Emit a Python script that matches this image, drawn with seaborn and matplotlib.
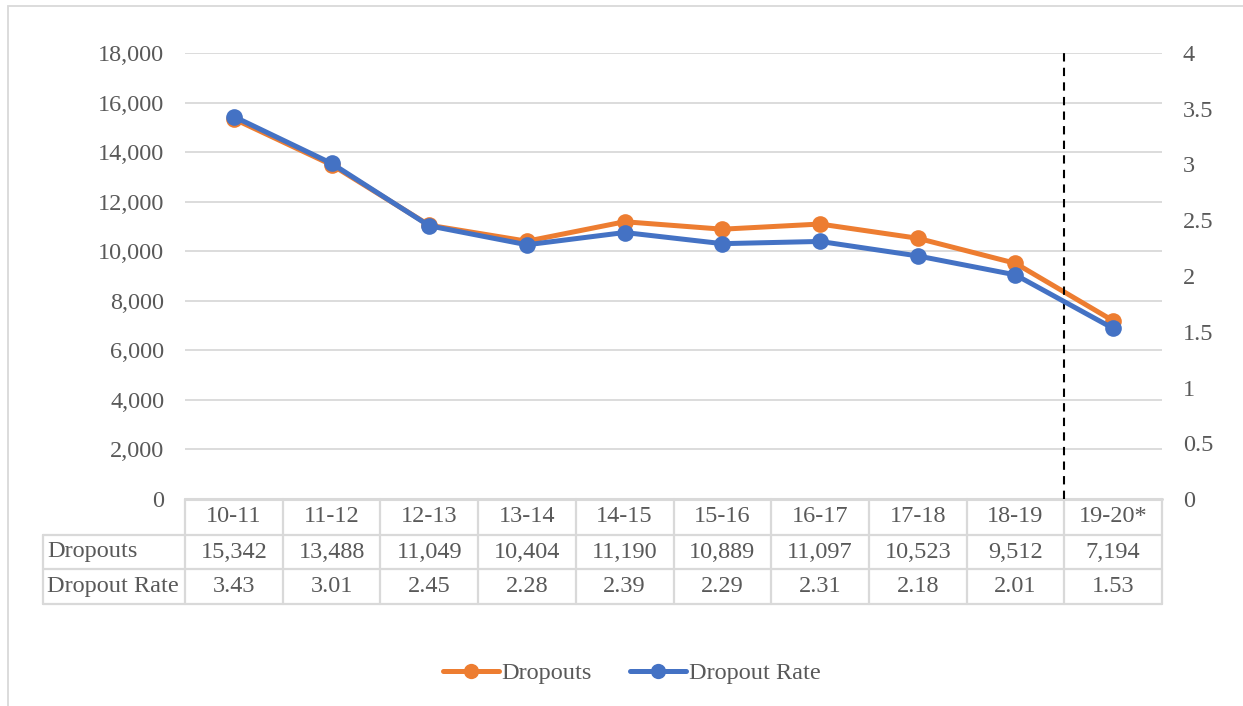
import numpy as np
import pandas as pd
import matplotlib
matplotlib.use("Agg")
import matplotlib.pyplot as plt
from matplotlib.lines import Line2D
from matplotlib.patches import Rectangle
from matplotlib.ticker import FuncFormatter, MultipleLocator
import matplotlib.transforms as mtransforms
import seaborn as sns

# School years and the two series shown in the chart and its data table
years = ["10-11", "11-12", "12-13", "13-14", "14-15", "15-16", "16-17", "17-18", "18-19", "19-20*"]
dropouts = [15342, 13488, 11049, 10404, 11190, 10889, 11097, 10523, 9512, 7194]
dropout_rate = [3.43, 3.01, 2.45, 2.28, 2.39, 2.29, 2.31, 2.18, 2.01, 1.53]
series_names = ["Dropouts", "Dropout Rate"]

ORANGE = "#ED7D31"
BLUE = "#4472C4"
GRID = "#D9D9D9"
TXT = "#595959"
FS = 17.5
LW = 3.6
MS = 12

sns.set_theme(style="white")
plt.rcParams["font.family"] = ["Liberation Serif", "DejaVu Serif"]

W, H = 1243, 706
fig = plt.figure(figsize=(W / 100, H / 100), dpi=100)

# outer chart frame
fig.patches.append(Rectangle((8 / W, -0.01), 1.05, 1 - 6 / H + 0.01, transform=fig.transFigure,
                             fill=False, edgecolor=GRID, linewidth=1.3))

left, right, top, bottom = 185, 1162, 53, 499
ax = fig.add_axes([left / W, 1 - bottom / H, (right - left) / W, (bottom - top) / H])
ax2 = ax.twinx()

df = pd.DataFrame({"pos": np.arange(len(years)), "Dropouts": dropouts, "Rate": dropout_rate})

sns.lineplot(data=df, x="pos", y="Dropouts", ax=ax, color=ORANGE, linewidth=LW,
             marker="o", markersize=MS, markeredgewidth=0, solid_capstyle="round")
sns.lineplot(data=df, x="pos", y="Rate", ax=ax2, color=BLUE, linewidth=LW,
             marker="o", markersize=MS, markeredgewidth=0, solid_capstyle="round")

n = len(years)
for a in (ax, ax2):
    a.set_xlim(-0.5, n - 0.5)
    a.set_xlabel("")
    a.set_ylabel("")
    for s in a.spines.values():
        s.set_visible(False)
    a.tick_params(axis="both", length=0, labelsize=FS, labelcolor=TXT)
    a.set_xticks([])

ax.set_ylim(0, 18000)
ax.yaxis.set_major_locator(MultipleLocator(2000))
ax.yaxis.set_major_formatter(FuncFormatter(lambda v, p: f"{int(v):,}"))
ax.tick_params(axis="y", pad=15)
ax.grid(axis="y", color=GRID, linewidth=1.3)
ax.set_axisbelow(True)

ax2.set_ylim(0, 4)
ax2.yaxis.set_major_locator(MultipleLocator(0.5))
ax2.yaxis.set_major_formatter(FuncFormatter(lambda v, p: f"{v:g}"))
ax2.tick_params(axis="y", pad=15)

# dashed divider before the latest year
ax2.axvline(n - 1.5, ymin=0, ymax=1.008, color="black", linestyle=(0, (4, 3)),
            linewidth=1.5, clip_on=False, zorder=1)

# data table beneath the plot
blend = mtransforms.blended_transform_factory(ax.transData, ax.transAxes)
ph = bottom - top
pw = right - left
row_edges = [0, -(535 - bottom) / ph, -(569 - bottom) / ph, -(604 - bottom) / ph]
label_left = (43 - left) / pw

kw = dict(color=GRID, linewidth=1.6, clip_on=False, zorder=0)
# horizontal rules
ax.add_line(Line2D([0, 1], [row_edges[0]] * 2, transform=ax.transAxes, **{**kw, "linewidth": 2.2}))
for y in row_edges[1:]:
    ax.add_line(Line2D([label_left, 1], [y, y], transform=ax.transAxes, **kw))
# vertical rules
for b in np.arange(-0.5, n, 1.0):
    ax.add_line(Line2D([b, b], [row_edges[0], row_edges[-1]], transform=blend, **kw))
ax.add_line(Line2D([label_left, label_left], [row_edges[1], row_edges[-1]],
                   transform=ax.transAxes, **kw))

centers = [(row_edges[i] + row_edges[i + 1]) / 2 for i in range(3)]
for i, yr in enumerate(years):
    ax.text(i, centers[0], yr, transform=blend, ha="center", va="center", fontsize=FS, color=TXT)
    ax.text(i, centers[1], f"{dropouts[i]:,}", transform=blend, ha="center", va="center",
            fontsize=FS, color=TXT)
    ax.text(i, centers[2], f"{dropout_rate[i]:.2f}", transform=blend, ha="center", va="center",
            fontsize=FS, color=TXT)
for r, name in enumerate(series_names):
    ax.text(label_left + 4 / pw, centers[r + 1], name, transform=ax.transAxes, ha="left",
            va="center", fontsize=FS, color=TXT)

handles = [Line2D([], [], color=ORANGE, linewidth=LW, marker="o", markersize=MS - 1,
                  markeredgewidth=0, solid_capstyle="round"),
           Line2D([], [], color=BLUE, linewidth=LW, marker="o", markersize=MS - 1,
                  markeredgewidth=0, solid_capstyle="round")]
fig.legend(handles, series_names, loc="center", bbox_to_anchor=(0.508, 1 - 673 / H),
           ncol=2, frameon=False, fontsize=FS, labelcolor=TXT, handlelength=2.3,
           handletextpad=0.1, columnspacing=1.6)

fig.savefig("out.png", dpi=100, facecolor="white")
